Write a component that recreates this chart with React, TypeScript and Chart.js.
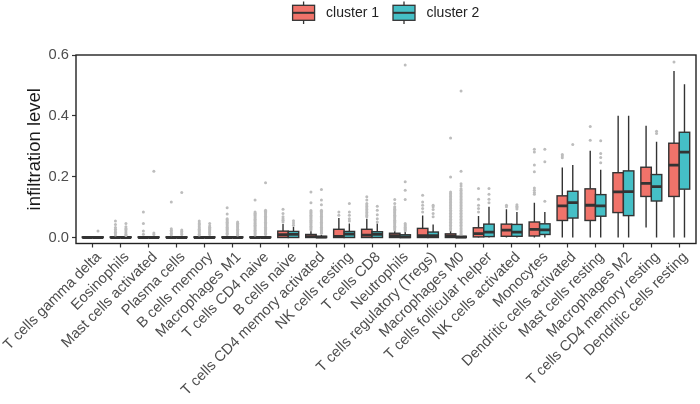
import React, { useEffect, useRef } from 'react';
import { Chart, registerables } from 'chart.js';

Chart.register(...registerables);

const categories = [
  'T cells gamma delta',
  'Eosinophils',
  'Mast cells activated',
  'Plasma cells',
  'B cells memory',
  'Macrophages M1',
  'T cells CD4 naive',
  'B cells naive',
  'T cells CD4 memory activated',
  'NK cells resting',
  'T cells CD8',
  'Neutrophils',
  'T cells regulatory (Tregs)',
  'Macrophages M0',
  'T cells follicular helper',
  'NK cells activated',
  'Monocytes',
  'Dendritic cells activated',
  'Mast cells resting',
  'Macrophages M2',
  'T cells CD4 memory resting',
  'Dendritic cells resting',
];

const seriesNames = ['cluster 1', 'cluster 2'];
const seriesColors = ['#F0736A', '#45BFC6'];
const yTicks = [0, 0.2, 0.4, 0.6];

// cluster 1 box statistics
const c1Lo = [0, 0, 0, 0, 0, 0, 0, 0, 0, 0, 0, 0, 0, 0, 0, 0, 0, 0, 0, 0, 0.033, 0];
const c1Q1 = [0, 0, 0, 0, 0, 0, 0, 0, 0, 0, 0, 0, 0, 0, 0.002, 0.004, 0.005, 0.056, 0.056, 0.082, 0.135, 0.135];
const c1Med = [0, 0, 0, 0, 0, 0, 0, 0.009, 0.003, 0.004, 0.008, 0.006, 0.006, 0.005, 0.013, 0.024, 0.027, 0.104, 0.106, 0.150, 0.178, 0.238];
const c1Q3 = [0.002, 0.002, 0.002, 0.002, 0.002, 0.002, 0.002, 0.021, 0.010, 0.027, 0.027, 0.014, 0.030, 0.012, 0.032, 0.044, 0.051, 0.137, 0.160, 0.213, 0.231, 0.310];
const c1Hi = [0.002, 0.004, 0.004, 0.004, 0.004, 0.004, 0.004, 0.044, 0.021, 0.064, 0.062, 0.022, 0.072, 0.021, 0.071, 0.093, 0.114, 0.230, 0.285, 0.400, 0.367, 0.547];

// cluster 2 box statistics
const c2Lo = [0, 0, 0, 0, 0, 0, 0, 0, 0, 0, 0, 0, 0, 0, 0, 0, 0, 0, 0, 0, 0, 0];
const c2Q1 = [0, 0, 0, 0, 0, 0, 0, 0, 0, 0, 0, 0, 0, 0, 0.003, 0.004, 0.010, 0.064, 0.070, 0.072, 0.120, 0.159];
const c2Med = [0, 0, 0, 0, 0, 0, 0, 0.010, 0.001, 0.011, 0.010, 0.002, 0.006, 0.001, 0.018, 0.018, 0.025, 0.115, 0.104, 0.151, 0.167, 0.281];
const c2Q3 = [0.002, 0.002, 0.002, 0.002, 0.002, 0.002, 0.002, 0.020, 0.004, 0.020, 0.019, 0.009, 0.018, 0.004, 0.044, 0.043, 0.045, 0.152, 0.141, 0.219, 0.207, 0.346];
const c2Hi = [0.002, 0.004, 0.004, 0.004, 0.004, 0.004, 0.004, 0.035, 0.009, 0.046, 0.046, 0.019, 0.043, 0.009, 0.101, 0.084, 0.084, 0.238, 0.223, 0.400, 0.315, 0.504];

// outliers
const c1Out: number[][] = [
  [],
  [0.054, 0.043, 0.033, 0.027, 0.021, 0.017, 0.013, 0.008],
  [0.084, 0.046, 0.021, 0.011],
  [0.117, 0.029, 0.024, 0.019, 0.014, 0.009],
  [0.054, 0.048, 0.044, 0.041, 0.035, 0.031, 0.027, 0.023, 0.019, 0.015, 0.011, 0.008],
  [0.098, 0.077, 0.062, 0.058, 0.054, 0.05, 0.046, 0.042, 0.038, 0.034, 0.03, 0.026, 0.022, 0.018, 0.014, 0.01],
  [0.123, 0.084, 0.080, 0.076, 0.072, 0.068, 0.064, 0.06, 0.056, 0.052, 0.048, 0.044, 0.04, 0.036, 0.032, 0.028, 0.024, 0.02, 0.016, 0.012, 0.008],
  [0.093, 0.079, 0.068, 0.062, 0.057, 0.051],
  [0.150, 0.114, 0.089, 0.085, 0.081, 0.077, 0.073, 0.069, 0.065, 0.061, 0.057, 0.053, 0.049, 0.045, 0.041, 0.037, 0.033, 0.029, 0.025],
  [0.084, 0.073],
  [0.134, 0.123, 0.112, 0.107, 0.102, 0.097, 0.092, 0.087, 0.082, 0.077, 0.072, 0.068],
  [0.125, 0.112, 0.101, 0.097, 0.093, 0.089, 0.085, 0.081, 0.077, 0.073, 0.069, 0.065, 0.061, 0.057, 0.053, 0.049, 0.045, 0.041, 0.037, 0.033, 0.029, 0.025],
  [0.139, 0.117, 0.106, 0.095, 0.084],
  [0.327, 0.199, 0.150, 0.145, 0.140, 0.135, 0.130, 0.125, 0.120, 0.115, 0.110, 0.105, 0.100, 0.095, 0.090, 0.085, 0.080, 0.075, 0.070, 0.065, 0.060, 0.055, 0.050, 0.045, 0.040, 0.035, 0.030, 0.025],
  [0.161, 0.126, 0.106, 0.095, 0.084],
  [0.106, 0.101],
  [0.290, 0.281, 0.238, 0.216, 0.163, 0.155, 0.148, 0.142],
  [0.273, 0.268, 0.262],
  [0.365, 0.320],
  [],
  [],
  [0.577],
];

const c2Out: number[][] = [
  [0.021],
  [0.046, 0.035, 0.030, 0.026, 0.021, 0.016, 0.011, 0.007],
  [0.218, 0.015, 0.010],
  [0.148, 0.025, 0.020, 0.015, 0.010],
  [0.046, 0.038, 0.034, 0.030, 0.026, 0.022, 0.018, 0.015, 0.010],
  [0.051, 0.047, 0.043, 0.039, 0.035, 0.031, 0.027, 0.023, 0.019, 0.015, 0.011, 0.008],
  [0.180, 0.090, 0.086, 0.082, 0.078, 0.074, 0.070, 0.066, 0.062, 0.058, 0.054, 0.05, 0.046, 0.042, 0.038, 0.034, 0.03, 0.026, 0.022, 0.018, 0.014, 0.01],
  [0.055, 0.048, 0.040],
  [0.158, 0.123, 0.108, 0.090, 0.086, 0.082, 0.078, 0.074, 0.070, 0.066, 0.062, 0.058, 0.054, 0.050, 0.046, 0.042, 0.038, 0.034, 0.030, 0.026, 0.022, 0.018, 0.014],
  [0.112, 0.084, 0.073, 0.062, 0.054],
  [0.103, 0.090, 0.075, 0.062, 0.051],
  [0.567, 0.183, 0.155, 0.125, 0.046, 0.042, 0.038, 0.034, 0.030, 0.026, 0.022],
  [0.106, 0.101, 0.092, 0.079, 0.068],
  [0.482, 0.218, 0.177, 0.169, 0.160, 0.155, 0.150, 0.145, 0.140, 0.135, 0.130, 0.125, 0.120, 0.115, 0.110, 0.105, 0.100, 0.095, 0.090, 0.085, 0.080, 0.075, 0.070, 0.065, 0.060, 0.055, 0.050, 0.045, 0.040, 0.035, 0.030, 0.025, 0.020, 0.015, 0.011],
  [0.161, 0.142, 0.126, 0.114],
  [0.108, 0.103, 0.099, 0.094],
  [0.290, 0.249, 0.119],
  [0.306],
  [0.318, 0.276, 0.263, 0.246],
  [],
  [0.349, 0.342],
  [],
];

const DODGE = 0.1875;
const HALF = 0.1875;
const FONT = "'Liberation Sans', Arial, Helvetica, sans-serif";
const INK = '#333333';
const TICK_SIZE = 14.7;

const groups = [
  { lo: c1Lo, q1: c1Q1, med: c1Med, q3: c1Q3, hi: c1Hi, off: -DODGE, color: seriesColors[0] },
  { lo: c2Lo, q1: c2Q1, med: c2Med, q3: c2Q3, hi: c2Hi, off: DODGE, color: seriesColors[1] },
];

const boxPlugin = {
  id: 'boxes',
  beforeDatasetsDraw(chart: any) {
    const { ctx, chartArea, scales } = chart;
    const x = scales.x;
    const y = scales.y;
    ctx.save();
    ctx.beginPath();
    ctx.rect(chartArea.left, chartArea.top, chartArea.right - chartArea.left, chartArea.bottom - chartArea.top);
    ctx.clip();
    groups.forEach((g) => {
      categories.forEach((_, i) => {
        const cx = x.getPixelForValue(i + g.off);
        const xl = x.getPixelForValue(i + g.off - HALF);
        const xr = x.getPixelForValue(i + g.off + HALF);
        const yLo = y.getPixelForValue(g.lo[i]);
        const yQ1 = y.getPixelForValue(g.q1[i]);
        const yMed = y.getPixelForValue(g.med[i]);
        const yQ3 = y.getPixelForValue(g.q3[i]);
        const yHi = y.getPixelForValue(g.hi[i]);
        ctx.strokeStyle = INK;
        ctx.lineWidth = 1.4;
        ctx.beginPath();
        ctx.moveTo(cx, yQ3);
        ctx.lineTo(cx, yHi);
        ctx.moveTo(cx, yQ1);
        ctx.lineTo(cx, yLo);
        ctx.stroke();
        ctx.fillStyle = g.color;
        ctx.fillRect(xl, yQ3, xr - xl, yQ1 - yQ3);
        ctx.strokeRect(xl, yQ3, xr - xl, yQ1 - yQ3);
        ctx.lineWidth = 2.8;
        ctx.beginPath();
        ctx.moveTo(xl, yMed);
        ctx.lineTo(xr, yMed);
        ctx.stroke();
      });
    });
    ctx.restore();
  },
  afterDraw(chart: any) {
    const { ctx, chartArea } = chart;
    ctx.save();
    ctx.strokeStyle = '#222222';
    ctx.lineWidth = 1.4;
    ctx.strokeRect(chartArea.left, chartArea.top, chartArea.right - chartArea.left, chartArea.bottom - chartArea.top);

    // legend
    ctx.font = `14px ${FONT}`;
    const keyW = 22;
    const gap = 11.5;
    const spacing = 14;
    const widths = seriesNames.map((n) => ctx.measureText(n).width);
    const total = widths.reduce((a, w) => a + keyW + gap + w, 0) + spacing * (seriesNames.length - 1);
    let px = (chartArea.left + chartArea.right) / 2 - total / 2;
    const midY = 12.8;
    seriesNames.forEach((name, k) => {
      const kx = px;
      const kc = kx + keyW / 2;
      ctx.strokeStyle = INK;
      ctx.lineWidth = 1.3;
      ctx.beginPath();
      ctx.moveTo(kc, 1.5);
      ctx.lineTo(kc, 5.3);
      ctx.moveTo(kc, 20.3);
      ctx.lineTo(kc, 24);
      ctx.stroke();
      ctx.fillStyle = seriesColors[k];
      ctx.fillRect(kx, 5.3, keyW, 15);
      ctx.strokeRect(kx, 5.3, keyW, 15);
      ctx.lineWidth = 2;
      ctx.beginPath();
      ctx.moveTo(kx, midY);
      ctx.lineTo(kx + keyW, midY);
      ctx.stroke();
      ctx.fillStyle = '#222222';
      ctx.textAlign = 'left';
      ctx.textBaseline = 'middle';
      ctx.fillText(name, kx + keyW + gap, midY + 0.5);
      px += keyW + gap + widths[k] + spacing;
    });
    ctx.restore();
  },
};

export default function App() {
  const ref = useRef<HTMLCanvasElement | null>(null);
  useEffect(() => {
    if (!ref.current) return;
    const outData = (arr: number[][], off: number) =>
      arr.flatMap((vals, i) => vals.map((v) => ({ x: i + off, y: v })));
    const chart = new Chart(ref.current, {
      type: 'scatter',
      data: {
        datasets: [
          {
            label: seriesNames[0],
            data: outData(c1Out, -DODGE),
            pointRadius: 1.5,
            pointBackgroundColor: '#bdbdbd',
            pointBorderWidth: 0,
          },
          {
            label: seriesNames[1],
            data: outData(c2Out, DODGE),
            pointRadius: 1.5,
            pointBackgroundColor: '#bdbdbd',
            pointBorderWidth: 0,
          },
        ],
      },
      options: {
        animation: false,
        responsive: true,
        maintainAspectRatio: false,
        layout: { padding: { top: 55, right: 3, left: 0, bottom: 0 } },
        plugins: {
          legend: { display: false },
          tooltip: { enabled: false },
        },
        scales: {
          x: {
            type: 'linear',
            min: -0.6,
            max: 21.6,
            afterBuildTicks: (axis: any) => {
              axis.ticks = categories.map((_, i) => ({ value: i }));
            },
            afterFit: (axis: any) => {
              axis.height = 160.5;
              axis.paddingLeft = 0;
              axis.paddingRight = 0;
            },
            grid: { drawOnChartArea: false, drawTicks: true, tickLength: 4, tickColor: INK, tickWidth: 1.2 },
            border: { display: false },
            ticks: {
              autoSkip: false,
              minRotation: 45,
              maxRotation: 45,
              padding: 1,
              labelOffset: 6.2,
              color: '#4d4d4d',
              font: { family: FONT, size: TICK_SIZE },
              callback: (v: any) => categories[Math.round(Number(v))] ?? '',
            },
          },
          y: {
            type: 'linear',
            min: -0.0197,
            max: 0.6,
            afterBuildTicks: (axis: any) => {
              axis.ticks = yTicks.map((v) => ({ value: v }));
            },
            afterFit: (axis: any) => {
              axis.width = 76;
            },
            grid: { drawOnChartArea: false, drawTicks: true, tickLength: 4, tickColor: INK, tickWidth: 1.2 },
            border: { display: false },
            ticks: {
              padding: 3,
              color: '#4d4d4d',
              font: { family: FONT, size: TICK_SIZE },
              callback: (v: any) => Number(v).toFixed(1),
            },
            title: {
              display: true,
              text: 'infiltration level',
              color: '#1a1a1a',
              font: { family: FONT, size: 18.5 },
              padding: { top: 24, bottom: 0 },
            },
          },
        },
      },
      plugins: [boxPlugin],
    });
    return () => chart.destroy();
  }, []);
  return (
    <div style={{ position: 'fixed', left: 0, top: 0, width: 700, height: 404, background: '#fff' }}>
      <canvas ref={ref} />
    </div>
  );
}
